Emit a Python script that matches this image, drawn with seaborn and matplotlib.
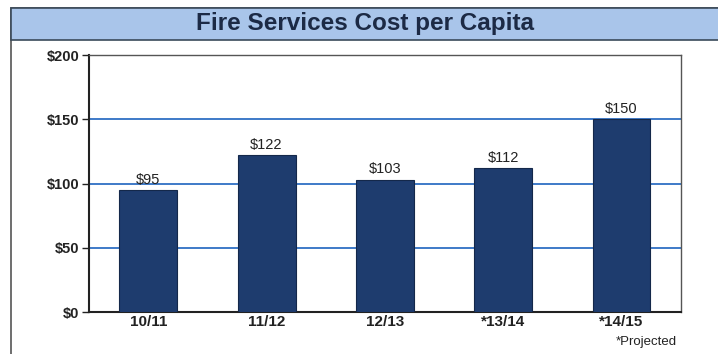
import matplotlib
matplotlib.use("Agg")
import matplotlib.pyplot as plt
import seaborn as sns
import pandas as pd
from matplotlib.patches import Rectangle

years = ["10/11", "11/12", "12/13", "*13/14", "*14/15"]
costs = [95, 122, 103, 112, 150]
value_labels = ["$95", "$122", "$103", "$112", "$150"]
yticks = [0, 50, 100, 150, 200]
ytick_labels = ["$0", "$50", "$100", "$150", "$200"]

sns.set_theme(style="white")
plt.rcParams["font.family"] = ["Liberation Sans", "DejaVu Sans"]

df = pd.DataFrame({"year": years, "cost": costs})

fig = plt.figure(figsize=(7.18, 3.54), dpi=100)
fig.patch.set_facecolor("white")

# background axes for outer frame and title band
bg = fig.add_axes([0, 0, 1, 1], zorder=-1)
bg.set_xlim(0, 1)
bg.set_ylim(0, 1)
bg.axis("off")
bg.add_patch(Rectangle((0.015, -0.05), 1.2, 1.028, facecolor="white",
                       edgecolor="#555555", linewidth=1.2, zorder=0))
bg.add_patch(Rectangle((0.015, 0.887), 1.2, 0.091, facecolor="#a9c5ea",
                       edgecolor="#3a4a5a", linewidth=1.2, zorder=1))
bg.text(0.509, 0.933, "Fire Services Cost per Capita", ha="center", va="center",
        fontsize=17.5, fontweight="bold", color="#1c2a45", zorder=2)
bg.text(0.943, 0.034, "*Projected", ha="right", va="center", fontsize=9.5,
        color="#222222", zorder=2)

ax = fig.add_axes([0.124, 0.1186, 0.824, 0.726])
ax.set_facecolor("white")
sns.barplot(data=df, x="year", y="cost", ax=ax, color="#1e3c6e", width=0.49,
            edgecolor="#14284a", linewidth=0.8, saturation=1, zorder=3)

ax.set_ylim(0, 200)
ax.set_yticks(yticks)
ax.set_yticklabels(ytick_labels, fontsize=10.5, fontweight="bold", color="#222222")
ax.set_xticks(range(len(years)))
ax.set_xticklabels(years, fontsize=11, fontweight="bold", color="#222222")
ax.set_xlabel("")
ax.set_ylabel("")
ax.set_xlim(-0.5, len(years) - 0.5)

for y in [50, 100, 150]:
    ax.axhline(y, color="#2f6fc4", linewidth=1.3, zorder=1)

for i, (v, lab) in enumerate(zip(costs, value_labels)):
    ax.text(i, v + 2.5, lab, ha="center", va="bottom", fontsize=10.5, color="#222222")

for side in ["top", "right"]:
    ax.spines[side].set_color("#555555")
    ax.spines[side].set_linewidth(1.0)
for side in ["left", "bottom"]:
    ax.spines[side].set_color("#222222")
    ax.spines[side].set_linewidth(1.5)

ax.tick_params(axis="y", length=5, width=1, color="#222222", pad=2, left=True)
ax.tick_params(axis="x", length=0, pad=2)

fig.savefig("out.png", dpi=100)
